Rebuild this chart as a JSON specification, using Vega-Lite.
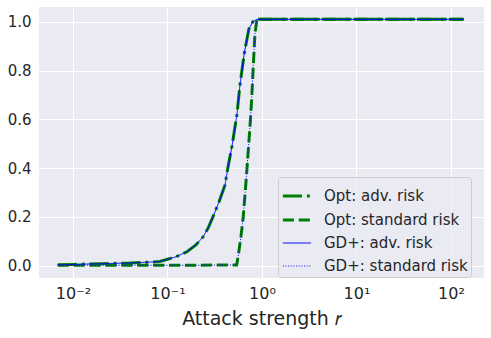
{
  "$schema": "https://vega.github.io/schema/vega-lite/v6.json",
  "width": 445,
  "height": 271,
  "autosize": {"type": "none"},
  "padding": {"left": 39, "top": 7, "right": 7, "bottom": 60},
  "background": "white",
  "config": {
    "font": "DejaVu Sans",
    "view": {"fill": "#eaeaf2", "stroke": null},
    "axis": {"labelColor": "#262626", "titleColor": "#262626", "gridColor": "white", "gridWidth": 1, "domain": false, "ticks": false, "labelFontSize": 15, "labelFont": "DejaVu Sans"}
  },
  "datasets": {
    "curves": [
      {"series": "Opt: adv. risk", "r": 0.0069, "risk": 0.004},
      {"series": "Opt: adv. risk", "r": 0.01, "risk": 0.005},
      {"series": "Opt: adv. risk", "r": 0.015, "risk": 0.007},
      {"series": "Opt: adv. risk", "r": 0.02, "risk": 0.008},
      {"series": "Opt: adv. risk", "r": 0.03, "risk": 0.01},
      {"series": "Opt: adv. risk", "r": 0.04, "risk": 0.011},
      {"series": "Opt: adv. risk", "r": 0.06, "risk": 0.014},
      {"series": "Opt: adv. risk", "r": 0.083, "risk": 0.017},
      {"series": "Opt: adv. risk", "r": 0.12, "risk": 0.035},
      {"series": "Opt: adv. risk", "r": 0.161, "risk": 0.057},
      {"series": "Opt: adv. risk", "r": 0.2, "risk": 0.085},
      {"series": "Opt: adv. risk", "r": 0.238, "risk": 0.118},
      {"series": "Opt: adv. risk", "r": 0.27, "risk": 0.155},
      {"series": "Opt: adv. risk", "r": 0.303, "risk": 0.2},
      {"series": "Opt: adv. risk", "r": 0.35, "risk": 0.26},
      {"series": "Opt: adv. risk", "r": 0.406, "risk": 0.33},
      {"series": "Opt: adv. risk", "r": 0.44, "risk": 0.41},
      {"series": "Opt: adv. risk", "r": 0.482, "risk": 0.49},
      {"series": "Opt: adv. risk", "r": 0.544, "risk": 0.62},
      {"series": "Opt: adv. risk", "r": 0.585, "risk": 0.74},
      {"series": "Opt: adv. risk", "r": 0.65, "risk": 0.87},
      {"series": "Opt: adv. risk", "r": 0.727, "risk": 0.97},
      {"series": "Opt: adv. risk", "r": 0.8, "risk": 1.0},
      {"series": "Opt: adv. risk", "r": 0.885, "risk": 1.01},
      {"series": "Opt: adv. risk", "r": 1.5, "risk": 1.01},
      {"series": "Opt: adv. risk", "r": 5, "risk": 1.01},
      {"series": "Opt: adv. risk", "r": 20, "risk": 1.01},
      {"series": "Opt: adv. risk", "r": 137, "risk": 1.01},

      {"series": "Opt: standard risk", "r": 0.0069, "risk": 0.002},
      {"series": "Opt: standard risk", "r": 0.05, "risk": 0.002},
      {"series": "Opt: standard risk", "r": 0.2, "risk": 0.002},
      {"series": "Opt: standard risk", "r": 0.54, "risk": 0.003},
      {"series": "Opt: standard risk", "r": 0.561, "risk": 0.04},
      {"series": "Opt: standard risk", "r": 0.6, "risk": 0.12},
      {"series": "Opt: standard risk", "r": 0.634, "risk": 0.2},
      {"series": "Opt: standard risk", "r": 0.68, "risk": 0.35},
      {"series": "Opt: standard risk", "r": 0.716, "risk": 0.47},
      {"series": "Opt: standard risk", "r": 0.75, "risk": 0.58},
      {"series": "Opt: standard risk", "r": 0.778, "risk": 0.68},
      {"series": "Opt: standard risk", "r": 0.81, "risk": 0.82},
      {"series": "Opt: standard risk", "r": 0.843, "risk": 0.95},
      {"series": "Opt: standard risk", "r": 0.885, "risk": 1.01},
      {"series": "Opt: standard risk", "r": 137, "risk": 1.01},

      {"series": "GD+: adv. risk", "r": 0.0069, "risk": 0.004},
      {"series": "GD+: adv. risk", "r": 0.01, "risk": 0.005},
      {"series": "GD+: adv. risk", "r": 0.015, "risk": 0.007},
      {"series": "GD+: adv. risk", "r": 0.02, "risk": 0.008},
      {"series": "GD+: adv. risk", "r": 0.03, "risk": 0.01},
      {"series": "GD+: adv. risk", "r": 0.04, "risk": 0.011},
      {"series": "GD+: adv. risk", "r": 0.06, "risk": 0.014},
      {"series": "GD+: adv. risk", "r": 0.083, "risk": 0.017},
      {"series": "GD+: adv. risk", "r": 0.12, "risk": 0.035},
      {"series": "GD+: adv. risk", "r": 0.161, "risk": 0.057},
      {"series": "GD+: adv. risk", "r": 0.2, "risk": 0.085},
      {"series": "GD+: adv. risk", "r": 0.238, "risk": 0.118},
      {"series": "GD+: adv. risk", "r": 0.27, "risk": 0.155},
      {"series": "GD+: adv. risk", "r": 0.303, "risk": 0.2},
      {"series": "GD+: adv. risk", "r": 0.35, "risk": 0.26},
      {"series": "GD+: adv. risk", "r": 0.406, "risk": 0.33},
      {"series": "GD+: adv. risk", "r": 0.44, "risk": 0.41},
      {"series": "GD+: adv. risk", "r": 0.482, "risk": 0.49},
      {"series": "GD+: adv. risk", "r": 0.544, "risk": 0.62},
      {"series": "GD+: adv. risk", "r": 0.585, "risk": 0.74},
      {"series": "GD+: adv. risk", "r": 0.65, "risk": 0.87},
      {"series": "GD+: adv. risk", "r": 0.727, "risk": 0.97},
      {"series": "GD+: adv. risk", "r": 0.8, "risk": 1.0},
      {"series": "GD+: adv. risk", "r": 0.885, "risk": 1.01},
      {"series": "GD+: adv. risk", "r": 1.5, "risk": 1.01},
      {"series": "GD+: adv. risk", "r": 5, "risk": 1.01},
      {"series": "GD+: adv. risk", "r": 20, "risk": 1.01},
      {"series": "GD+: adv. risk", "r": 137, "risk": 1.01},

      {"series": "GD+: standard risk", "r": 0.0069, "risk": 0.002},
      {"series": "GD+: standard risk", "r": 0.05, "risk": 0.002},
      {"series": "GD+: standard risk", "r": 0.2, "risk": 0.002},
      {"series": "GD+: standard risk", "r": 0.54, "risk": 0.003},
      {"series": "GD+: standard risk", "r": 0.561, "risk": 0.04},
      {"series": "GD+: standard risk", "r": 0.6, "risk": 0.12},
      {"series": "GD+: standard risk", "r": 0.634, "risk": 0.2},
      {"series": "GD+: standard risk", "r": 0.68, "risk": 0.35},
      {"series": "GD+: standard risk", "r": 0.716, "risk": 0.47},
      {"series": "GD+: standard risk", "r": 0.75, "risk": 0.58},
      {"series": "GD+: standard risk", "r": 0.778, "risk": 0.68},
      {"series": "GD+: standard risk", "r": 0.81, "risk": 0.82},
      {"series": "GD+: standard risk", "r": 0.843, "risk": 0.95},
      {"series": "GD+: standard risk", "r": 0.885, "risk": 1.01},
      {"series": "GD+: standard risk", "r": 137, "risk": 1.01}
    ]
  },
  "data": {"name": "curves"},
  "mark": {"type": "line", "clip": true},
  "encoding": {
    "x": {
      "field": "r", "type": "quantitative",
      "scale": {"type": "log", "domain": [0.00437, 224], "nice": false},
      "axis": {
        "values": [0.01, 0.1, 1, 10, 100],
        "labelExpr": "datum.value < 0.05 ? '10⁻²' : datum.value < 0.5 ? '10⁻¹' : datum.value < 5 ? '10⁰' : datum.value < 50 ? '10¹' : '10²'",
        "labelPadding": 7,
        "labelFontSize": 16,
        "title": "Attack strength 𝑟",
        "titleFontSize": 19,
        "titleFontWeight": "normal",
        "titlePadding": 8
      }
    },
    "y": {
      "field": "risk", "type": "quantitative",
      "scale": {"domain": [-0.0505, 1.0605], "nice": false, "zero": false},
      "axis": {"values": [0, 0.2, 0.4, 0.6, 0.8, 1.0], "format": ".1f", "labelPadding": 8, "title": null}
    },
    "color": {
      "field": "series", "type": "nominal",
      "scale": {
        "domain": ["Opt: adv. risk", "Opt: standard risk", "GD+: adv. risk", "GD+: standard risk"],
        "range": ["#008000", "#008000", "#0000ff", "#0000ff"]
      },
      "legend": {
        "title": null,
        "orient": "none",
        "legendX": 239,
        "legendY": 170,
        "fillColor": "rgba(234,234,242,0.8)",
        "strokeColor": "#cccccc",
        "cornerRadius": 3,
        "padding": 3,
        "labelFontSize": 15,
        "labelColor": "#262626",
        "labelFont": "DejaVu Sans",
        "symbolType": "stroke",
        "symbolSize": 800,
        "labelOffset": 11,
        "rowPadding": -3
      }
    },
    "strokeDash": {
      "field": "series", "type": "nominal",
      "scale": {
        "domain": ["Opt: adv. risk", "Opt: standard risk", "GD+: adv. risk", "GD+: standard risk"],
        "range": [[19.2, 4.8, 3, 4.8], [11.1, 4.8], [1, 0], [1, 1.65]]
      }
    },
    "strokeWidth": {
      "field": "series", "type": "nominal",
      "scale": {
        "type": "ordinal",
        "domain": ["Opt: adv. risk", "Opt: standard risk", "GD+: adv. risk", "GD+: standard risk"],
        "range": [3, 3, 1, 1]
      }
    }
  }
}
